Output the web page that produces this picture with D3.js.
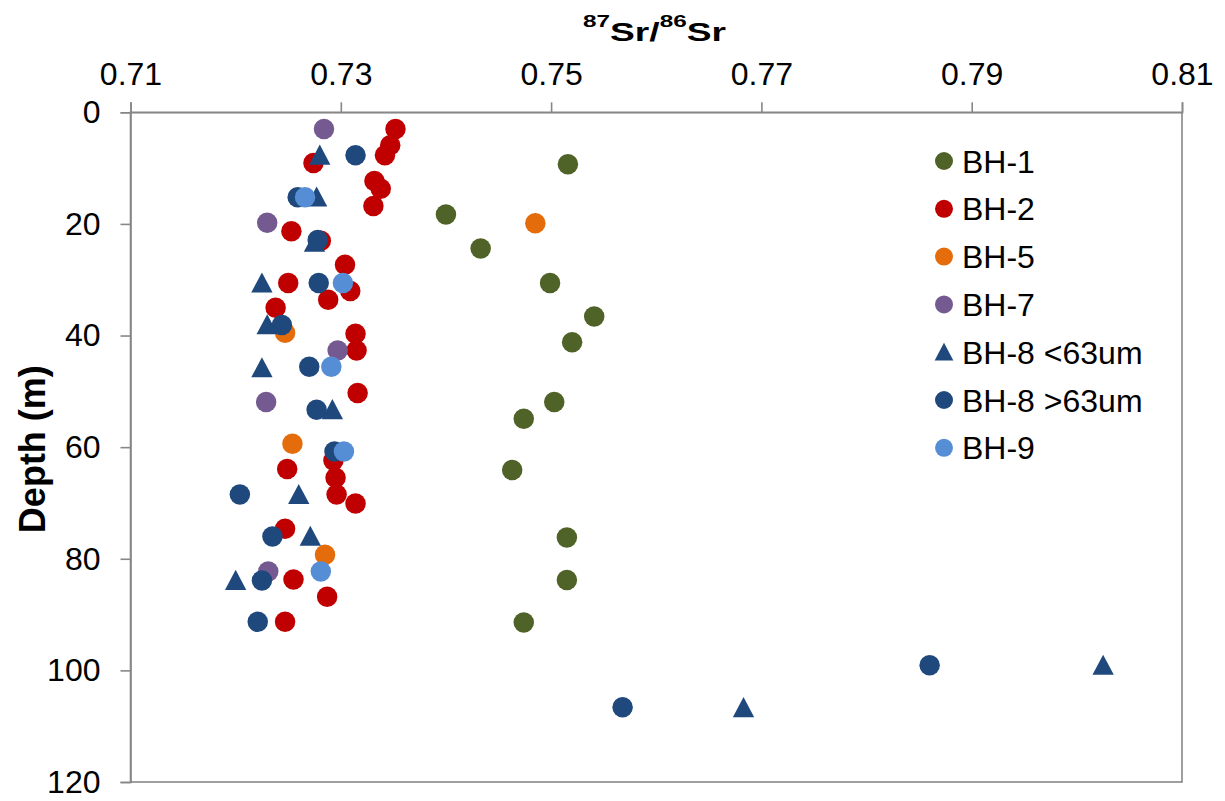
<!DOCTYPE html>
<html>
<head>
<meta charset="utf-8">
<script src="https://cdn.jsdelivr.net/npm/d3@7/dist/d3.min.js"></script>
<style>
  html, body { margin: 0; padding: 0; background: #ffffff; }
  svg { display: block; font-family: "Liberation Sans", Arial, sans-serif; }
</style>
</head>
<body>
<svg id="chart" width="1225" height="801"></svg>
<script>
// Sr isotope ratio (87Sr/86Sr) against depth for each borehole: [ratio, depth (m)]
const bh1 = [
  [0.7516, 9.3], [0.7400, 18.3], [0.7433, 24.4], [0.7499, 30.6], [0.7541, 36.6],
  [0.7520, 41.2], [0.7503, 51.9], [0.7474, 54.9], [0.7463, 64.1], [0.7515, 76.2],
  [0.7515, 83.8], [0.7474, 91.4]
];
const bh2 = [
  [0.7352, 3.0], [0.7347, 5.9], [0.7342, 7.7], [0.7274, 9.1], [0.7332, 12.3],
  [0.7338, 13.7], [0.7331, 16.8], [0.7253, 21.3], [0.7281, 23.0], [0.7304, 27.3],
  [0.7250, 30.6], [0.7309, 32.0], [0.7288, 33.6], [0.7238, 35.0], [0.7314, 39.7],
  [0.7315, 42.7], [0.7316, 50.3], [0.7293, 62.4], [0.7249, 63.9], [0.7295, 65.5],
  [0.7296, 68.5], [0.7314, 70.1], [0.7247, 74.6], [0.7255, 83.7], [0.7287, 86.8],
  [0.7247, 91.3]
];
const bh5 = [[0.7485, 19.9], [0.7247, 39.5], [0.7254, 59.4], [0.7285, 79.3]];
const bh7 = [[0.7284, 3.0], [0.7230, 19.8], [0.7297, 42.7], [0.7229, 51.9], [0.7231, 82.3]];
const bh8Fine = [
  [0.7280, 7.7], [0.7277, 15.2], [0.7275, 23.3], [0.7225, 30.6], [0.7230, 38.1],
  [0.7225, 45.8], [0.7292, 53.3], [0.7260, 68.5], [0.7271, 76.0], [0.7200, 83.9],
  [0.8025, 99.1], [0.7683, 106.7]
];
const bh8Coarse = [
  [0.7314, 7.7], [0.7259, 15.2], [0.7278, 22.9], [0.7279, 30.6], [0.7244, 38.1],
  [0.7270, 45.6], [0.7277, 53.3], [0.7294, 60.8], [0.7204, 68.5], [0.7235, 76.0],
  [0.7225, 83.9], [0.7221, 91.3], [0.7860, 99.1], [0.7568, 106.6]
];
const bh9 = [[0.7266, 15.2], [0.7302, 30.6], [0.7291, 45.6], [0.7303, 60.8], [0.7281, 82.3]];

const seriesNames = ["BH-1", "BH-2", "BH-5", "BH-7", "BH-8 <63um", "BH-8 >63um", "BH-9"];
const seriesData = [bh1, bh2, bh5, bh7, bh8Fine, bh8Coarse, bh9];
const seriesColors = ["#4f6228", "#c00000", "#e46c0a", "#745a91", "#1f497d", "#1f497d", "#558ed5"];
const seriesShapes = ["circle", "circle", "circle", "circle", "triangle", "circle", "circle"];

const xTicks = [0.71, 0.73, 0.75, 0.77, 0.79, 0.81];
const yTicks = [0, 20, 40, 60, 80, 100, 120];

const svg = d3.select("#chart");
const plot = { left: 130.5, right: 1182, top: 112.3, bottom: 782 };

const x = d3.scaleLinear().domain([0.71, 0.81]).range([plot.left, plot.right]);
const y = d3.scaleLinear().domain([0, 120]).range([plot.top, plot.bottom]);

const axisColor = "#878787";

// plot frame
svg.append("rect")
  .attr("x", plot.left).attr("y", plot.top)
  .attr("width", plot.right - plot.left).attr("height", plot.bottom - plot.top)
  .attr("fill", "none").attr("stroke", axisColor).attr("stroke-width", 1.6);

// top x axis
const gx = svg.append("g")
  .attr("transform", `translate(0,${plot.top})`)
  .call(d3.axisTop(x).tickValues(xTicks).tickFormat(d3.format(".2f")).tickSize(10).tickPadding(17));
// left y axis
const gy = svg.append("g")
  .attr("transform", `translate(${plot.left},0)`)
  .call(d3.axisLeft(y).tickValues(yTicks).tickSize(10).tickPadding(20));

[gx, gy].forEach(g => {
  g.select(".domain").attr("stroke", axisColor).attr("stroke-width", 1.6);
  g.selectAll(".tick line").attr("stroke", axisColor).attr("stroke-width", 1.6);
  g.selectAll(".tick text")
    .attr("fill", "#000")
    .style("font-family", "'Liberation Sans', Arial, sans-serif")
    .style("font-size", "32px");
});

// marker drawing
const triPath = (s) => `M0,${-s * 0.52}L${s * 0.52},${s * 0.46}L${-s * 0.52},${s * 0.46}Z`;

function drawMarker(sel, shape, color, size) {
  if (shape === "triangle") {
    sel.append("path").attr("d", triPath(size)).attr("fill", color);
  } else {
    sel.append("circle").attr("r", size / 2).attr("fill", color);
  }
}

const marks = svg.append("g");
seriesData.forEach((data, i) => {
  const g = marks.append("g");
  g.selectAll("g.pt")
    .data(data)
    .join("g")
    .attr("class", "pt")
    .attr("transform", d => `translate(${x(d[0])},${y(d[1])})`)
    .each(function () { drawMarker(d3.select(this), seriesShapes[i], seriesColors[i], 20.5); });
});

// legend
const legend = svg.append("g").attr("transform", "translate(944,161)");
seriesNames.forEach((name, i) => {
  const row = legend.append("g").attr("transform", `translate(0,${i * 47.8})`);
  drawMarker(row, seriesShapes[i], seriesColors[i], 18);
  row.append("text")
    .attr("x", 18).attr("y", 0).attr("dy", "0.36em")
    .style("font-size", "32px").attr("fill", "#000")
    .text(name);
});

// x axis title: 87Sr/86Sr
const titleG = svg.append("g");
const title = titleG.append("text")
  .attr("x", 0).attr("y", 0)
  .style("font-weight", "bold").style("font-size", "26px").attr("fill", "#000");
title.append("tspan").attr("dy", -14).style("font-size", "17px").text("87");
title.append("tspan").attr("dy", 14).text("Sr/");
title.append("tspan").attr("dy", -14).style("font-size", "17px").text("86");
title.append("tspan").attr("dy", 14).text("Sr");
const tw = title.node().getComputedTextLength();
titleG.attr("transform", `translate(583,41) scale(${143 / tw},1)`);

// y axis title
svg.append("text")
  .attr("transform", `translate(45,${(plot.top + plot.bottom) / 2 + 2}) rotate(-90)`)
  .attr("text-anchor", "middle")
  .style("font-weight", "bold").style("font-size", "36px").attr("fill", "#000")
  .text("Depth (m)");
</script>
</body>
</html>
